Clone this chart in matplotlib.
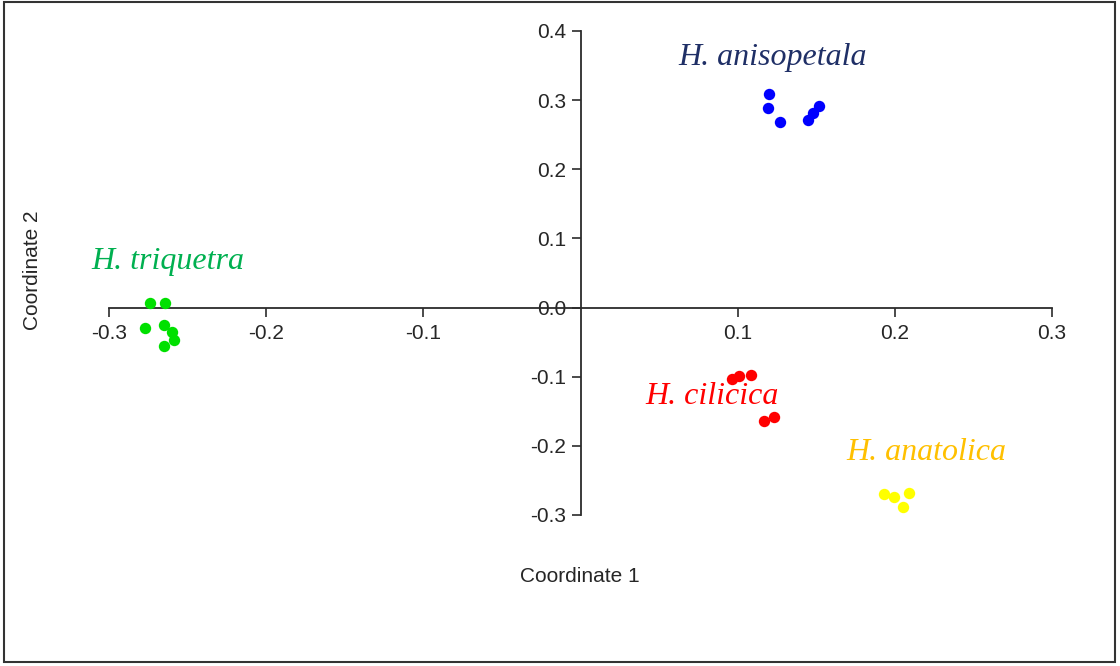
"""PCoA scatter of five Hypericum-like groups with axes crossing at the origin."""
import matplotlib.pyplot as plt
from matplotlib.patches import Rectangle

# coordinates per species group
aniso_x = [0.1202, 0.1194, 0.1272, 0.1446, 0.1478, 0.1520]
aniso_y = [0.309, 0.289, 0.269, 0.272, 0.281, 0.291]
triq_x = [-0.2737, -0.2644, -0.2774, -0.2653, -0.2597, -0.2587, -0.2653]
triq_y = [0.0068, 0.0068, -0.0293, -0.0246, -0.0357, -0.0462, -0.0559]
cilic_x = [0.0965, 0.1011, 0.1086, 0.1170, 0.1228]
cilic_y = [-0.103, -0.0983, -0.0968, -0.1643, -0.1580]
anat_x = [0.1934, 0.1997, 0.2087, 0.2050]
anat_y = [-0.2692, -0.2736, -0.2688, -0.2880]

x_ticks = [-0.3, -0.2, -0.1, 0.1, 0.2, 0.3]
y_ticks = [-0.3, -0.2, -0.1, 0.0, 0.1, 0.2, 0.3, 0.4]

groups = [
    ("H. anisopetala", aniso_x, aniso_y, "#0000ff", "#1f2f66", (0.1225, 0.361), "center"),
    ("H. triquetra", triq_x, triq_y, "#00e000", "#00b050", (-0.3112, 0.066), "left"),
    ("H. cilicica", cilic_x, cilic_y, "#ff0000", "#ff0000", (0.0410, -0.128), "left"),
    ("H. anatolica", anat_x, anat_y, "#ffff00", "#ffc000", (0.1690, -0.210), "left"),
]

fig = plt.figure(figsize=(11.2, 6.66), dpi=100)
ax = fig.add_axes([109 / 1120, 151 / 666, 943 / 1120, 484 / 666])
ax.set_xlim(-0.3, 0.3)
ax.set_ylim(-0.3, 0.4)

for name, xs, ys, dot, txt, pos, ha in groups:
    ax.plot(xs, ys, "o", color=dot, markersize=8.2, markeredgewidth=0, clip_on=False, zorder=3)
    ax.text(pos[0], pos[1], name, color=txt, fontsize=23, family="Liberation Serif",
            style="italic", ha=ha, va="center")

axis_col = "#2b2b2b"
for side in ("top", "right"):
    ax.spines[side].set_visible(False)
ax.spines["left"].set_position(("data", 0))
ax.spines["bottom"].set_position(("data", 0))
ax.spines["left"].set_bounds(-0.3, 0.4)
ax.spines["bottom"].set_bounds(-0.3, 0.3)
for side in ("left", "bottom"):
    ax.spines[side].set_color(axis_col)
    ax.spines[side].set_linewidth(1.3)

ax.set_xticks(x_ticks)
ax.set_xticklabels([f"{v:.1f}" for v in x_ticks])
ax.set_yticks(y_ticks)
ax.set_yticklabels([f"{v:.1f}" for v in y_ticks])
ax.tick_params(axis="both", direction="out", length=6.5, width=1.2, color=axis_col,
               labelsize=15, labelcolor="#262626")
ax.tick_params(axis="x", pad=5.5)
ax.tick_params(axis="y", pad=4)
for lab in ax.get_xticklabels() + ax.get_yticklabels():
    lab.set_family("Liberation Sans")

fig.text(580 / 1120, 1 - 577 / 666, "Coordinate 1", fontsize=15, family="Liberation Sans",
         color="#262626", ha="center", va="center")
fig.text(32 / 1120, 1 - 270 / 666, "Coordinate 2", fontsize=15, family="Liberation Sans",
         color="#262626", ha="center", va="center", rotation=90)

# outer frame
fig.patches.append(Rectangle((4 / 1120, 4 / 666), 1111 / 1120, 660 / 666, transform=fig.transFigure,
                             fill=False, edgecolor="#333333", linewidth=1.5))

fig.savefig("out.png", dpi=100)
